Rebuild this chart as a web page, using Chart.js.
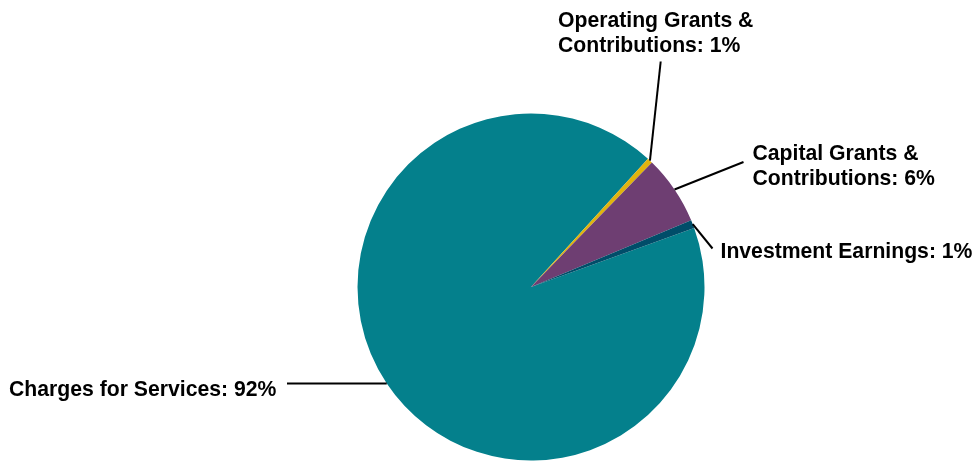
<!DOCTYPE html>
<html>
<head>
<meta charset="utf-8">
<script src="https://cdn.jsdelivr.net/npm/chart.js@4"></script>
<style>
  html, body { margin: 0; padding: 0; background: #ffffff; }
  #wrap { position: relative; width: 977px; height: 461px; }
</style>
</head>
<body>
<div id="wrap"><canvas id="c"></canvas></div>
<script>
// ---- data ----
const categories = ['Charges for Services', 'Operating Grants & Contributions', 'Capital Grants & Contributions', 'Investment Earnings'];
const values = [92.3, 0.5, 6.45, 0.75];
const pctLabels = ['92%', '1%', '6%', '1%'];
const colors = ['#04808C', '#E0B40E', '#6E3E72', '#004D69'];

// ---- label layout (leader line end point, text anchor, wrap) ----
const labelLayout = [
  { end: [287, 383.5], text: [9, 396], wrap: false },
  { end: [660.7, 61.5], text: [558, 26.5], wrap: true },
  { end: [743.5, 162], text: [752.5, 159.5], wrap: true },
  { end: [712.5, 248.5], text: [720.5, 257.5], wrap: false }
];
const lineGap = 25.5;

const labelPlugin = {
  id: 'pieLabels',
  afterDraw(chart) {
    const ctx = chart.ctx;
    const meta = chart.getDatasetMeta(0);
    ctx.save();
    meta.data.forEach((arc, i) => {
      const p = arc.getProps(['x', 'y', 'startAngle', 'endAngle', 'outerRadius'], true);
      const mid = (p.startAngle + p.endAngle) / 2;
      const sx = p.x + Math.cos(mid) * p.outerRadius;
      const sy = p.y + Math.sin(mid) * p.outerRadius;
      const L = labelLayout[i];
      ctx.strokeStyle = '#000000';
      ctx.lineWidth = 2;
      ctx.beginPath();
      ctx.moveTo(sx, sy);
      ctx.lineTo(L.end[0], L.end[1]);
      ctx.stroke();

      ctx.fillStyle = '#000000';
      ctx.font = 'bold 21.2px "Liberation Sans", Arial, sans-serif';
      ctx.textAlign = 'left';
      ctx.textBaseline = 'alphabetic';
      const full = categories[i] + ': ' + pctLabels[i];
      let lines = [full];
      if (L.wrap) {
        const k = full.indexOf('& ');
        lines = [full.slice(0, k + 1), full.slice(k + 2)];
      }
      lines.forEach((t, j) => ctx.fillText(t, L.text[0], L.text[1] + j * lineGap));
    });
    ctx.restore();
  }
};

new Chart(document.getElementById('c'), {
  type: 'pie',
  data: {
    labels: categories,
    datasets: [{
      data: values,
      backgroundColor: colors,
      borderWidth: 0
    }]
  },
  options: {
    responsive: true,
    maintainAspectRatio: false,
    animation: false,
    rotation: 70.1,
    layout: { padding: { top: 113.5, bottom: 0.5, left: 200, right: 115 } },
    plugins: {
      legend: { display: false },
      tooltip: { enabled: false }
    }
  },
  plugins: [labelPlugin]
});
</script>
</body>
</html>
